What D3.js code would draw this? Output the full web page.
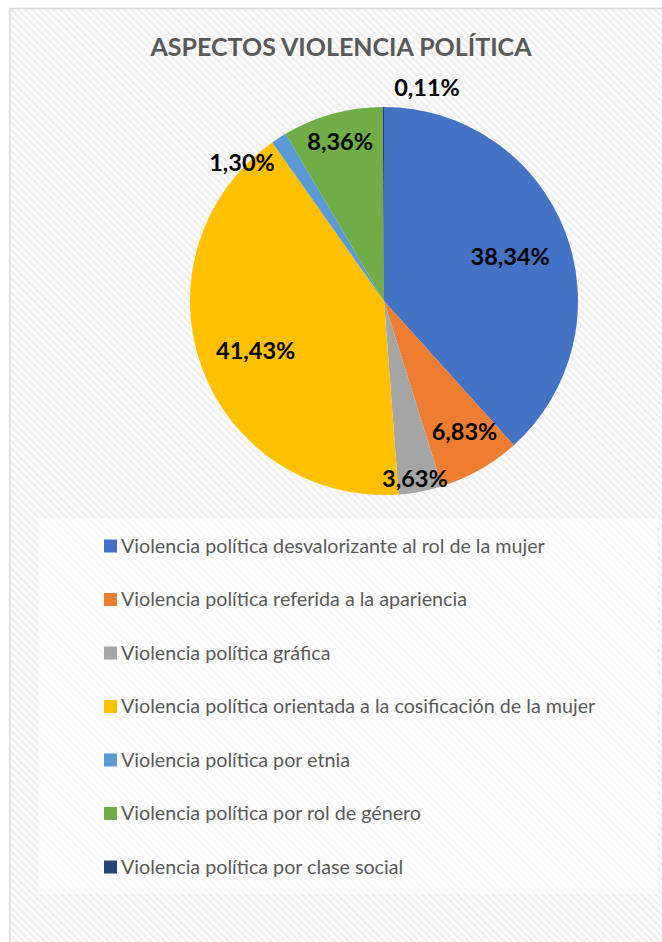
<!DOCTYPE html>
<html>
<head>
<meta charset="utf-8">
<script src="https://cdn.jsdelivr.net/npm/d3@7"></script>
<style>
  html, body { margin: 0; padding: 0; background: #fff; }
  svg { display: block; }
</style>
</head>
<body>
<div id="chart"></div>
<script>
// slice data, clockwise from 12 o'clock
const categories = [
    "Violencia política desvalorizante al rol de la mujer",
    "Violencia política referida a la apariencia",
    "Violencia política gráfica",
    "Violencia política orientada a la cosificación de la mujer",
    "Violencia política por etnia",
    "Violencia política por rol de género",
    "Violencia política por clase social"
];
const percents = [38.34, 6.83, 3.63, 41.43, 1.30, 8.36, 0.11];
const colors = ["#4472c4", "#ed7d31", "#a5a5a5", "#ffc000", "#5b9bd5", "#70ad47", "#264478"];
const labels = ["38,34%", "6,83%", "3,63%", "41,43%", "1,30%", "8,36%", "0,11%"];

const width = 662;
const height = 942;

// best-fit label placement (radius as fraction of pie radius, angle nudge in degrees)
const labelRadius = [0.69, 0.79, 0.93, 0.71, 1.02, 0.85, 1.12];
const labelNudge  = [1.5, -2, 1, -1.6, -13, 0, 11.6];

const svg = d3.select("#chart").append("svg")
    .attr("width", width)
    .attr("height", height)
    .attr("viewBox", [0, 0, width, height]);

// diagonal hatch like the office "light upward diagonal" fill
const defs = svg.append("defs");
const hatch = defs.append("pattern")
    .attr("id", "hatch")
    .attr("patternUnits", "userSpaceOnUse")
    .attr("width", 5).attr("height", 5)
    .attr("patternTransform", "rotate(-45)");
hatch.append("rect").attr("width", 5).attr("height", 5).attr("fill", "#fcfcfc");
hatch.append("rect").attr("width", 2.2).attr("height", 5).attr("fill", "#efefef");

// chart area
svg.append("rect")
    .attr("x", 10).attr("y", 8.5)
    .attr("width", width + 20).attr("height", height + 20)
    .attr("fill", "url(#hatch)")
    .attr("stroke", "#d9d9d9")
    .attr("stroke-width", 1.5);

svg.append("text")
    .attr("x", 341)
    .attr("y", 56)
    .attr("text-anchor", "middle")
    .style("font-family", "Lato, 'Open Sans', sans-serif")
    .style("font-weight", "bold")
    .style("font-size", "25px")
    .attr("fill", "#595959")
    .text("ASPECTOS VIOLENCIA POLÍTICA");

// pie
const cx = 384, cy = 301, radius = 194;
const pie = d3.pie().sort(null).value(d => d);
const arcs = pie(percents);
const arc = d3.arc().innerRadius(0).outerRadius(radius);

const pieG = svg.append("g").attr("transform", `translate(${cx},${cy})`);

pieG.selectAll("path")
    .data(arcs)
    .join("path")
    .attr("d", arc)
    .attr("fill", (d, i) => colors[i]);

pieG.selectAll(".slice-label")
    .data(arcs)
    .join("text")
    .attr("class", "slice-label")
    .attr("transform", (d, i) => {
        const a = (d.startAngle + d.endAngle) / 2 + labelNudge[i] * Math.PI / 180;
        const r = radius * labelRadius[i];
        return `translate(${r * Math.sin(a)},${-r * Math.cos(a)})`;
    })
    .attr("text-anchor", "middle")
    .attr("dy", "0.35em")
    .style("font-family", "Lato, 'Open Sans', sans-serif")
    .style("font-weight", "bold")
    .style("font-size", "23.5px")
    .attr("fill", "#000")
    .text((d, i) => labels[i]);

// legend
const legend = svg.append("g");
legend.append("rect")
    .attr("x", 38).attr("y", 518)
    .attr("width", 619).attr("height", 376)
    .attr("fill", "#fff")
    .attr("fill-opacity", 0.6);

const legendY = d3.scalePoint()
    .domain(categories)
    .range([546, 867]);

const items = legend.selectAll(".legend-item")
    .data(categories)
    .join("g")
    .attr("class", "legend-item")
    .attr("transform", d => `translate(104,${legendY(d)})`);

items.append("rect")
    .attr("x", 0).attr("y", -6.5)
    .attr("width", 13).attr("height", 13)
    .attr("fill", (d, i) => colors[i]);

items.append("text")
    .attr("x", 17)
    .attr("y", 0)
    .attr("dy", "0.35em")
    .style("font-family", "Lato, 'Open Sans', sans-serif")
    .style("font-size", "19.7px")
    .attr("fill", "#595959")
    .text(d => d);
</script>
</body>
</html>
